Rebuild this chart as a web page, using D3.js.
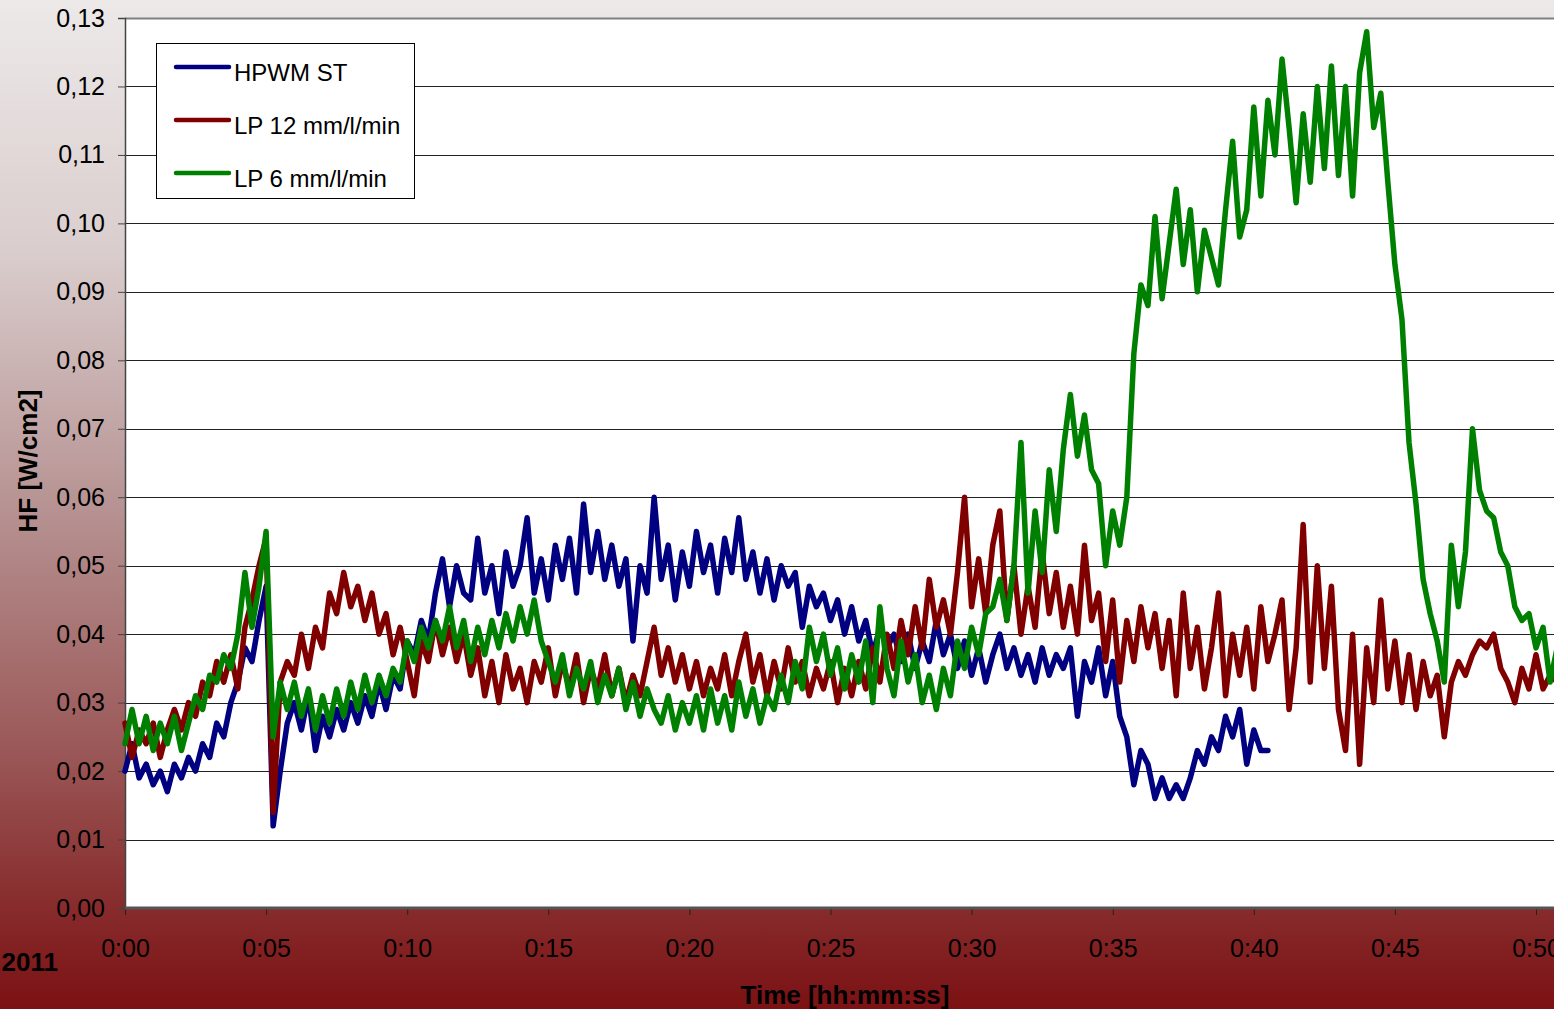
<!DOCTYPE html>
<html lang="en">
<head>
    <meta charset="UTF-8">
    <title>HF over time</title>
    <script src="https://d3js.org/d3.v7.min.js"></script>
    <style type="text/css">
        body { margin: 0; overflow: hidden; }
        text { font-family: "Liberation Sans", Arial, sans-serif; }
    </style>
</head>
<body>
<div id="svgDiv"></div>

<script type="text/javascript">

    // time step between samples, in minutes (15 s)
    var stepMin = 0.25;

    var seriesNames = ["HPWM ST", "LP 12 mm/l/min", "LP 6 mm/l/min"];
    var seriesColors = ["#000080", "#800000", "#008000"];

    // HF [W/cm2], one value every 15 s from 0:00
    var hpwmST = [
        0.020, 0.024, 0.019, 0.021, 0.018, 0.020, 0.017, 0.021, 0.019, 0.022,
        0.020, 0.024, 0.022, 0.027, 0.025, 0.030, 0.033, 0.038, 0.036, 0.042,
        0.047, 0.012, 0.020, 0.027, 0.030, 0.026, 0.031, 0.023, 0.028, 0.025,
        0.029, 0.026, 0.030, 0.027, 0.031, 0.028, 0.033, 0.029, 0.034, 0.032,
        0.039, 0.037, 0.042, 0.039, 0.046, 0.051, 0.044, 0.050, 0.046, 0.045,
        0.054, 0.046, 0.050, 0.043, 0.052, 0.047, 0.050, 0.057, 0.046, 0.051,
        0.045, 0.053, 0.048, 0.054, 0.046, 0.059, 0.049, 0.055, 0.048, 0.053,
        0.047, 0.051, 0.039, 0.050, 0.046, 0.060, 0.048, 0.053, 0.045, 0.052,
        0.047, 0.055, 0.049, 0.053, 0.046, 0.054, 0.049, 0.057, 0.048, 0.052,
        0.046, 0.051, 0.045, 0.050, 0.047, 0.049, 0.041, 0.047, 0.044, 0.046,
        0.042, 0.045, 0.040, 0.044, 0.039, 0.042, 0.037, 0.041, 0.038, 0.040,
        0.036, 0.040, 0.035, 0.039, 0.036, 0.042, 0.037, 0.040, 0.035, 0.039,
        0.034, 0.038, 0.033, 0.037, 0.040, 0.035, 0.038, 0.034, 0.037, 0.033,
        0.038, 0.034, 0.037, 0.035, 0.038, 0.028, 0.036, 0.033, 0.038, 0.031,
        0.036, 0.028, 0.025, 0.018, 0.023, 0.021, 0.016, 0.019, 0.016, 0.018,
        0.016, 0.019, 0.023, 0.021, 0.025, 0.023, 0.028, 0.025, 0.029, 0.021,
        0.026, 0.023, 0.023
    ];

    var lp12 = [
        0.027, 0.022, 0.026, 0.024, 0.027, 0.022, 0.026, 0.029, 0.026, 0.030,
        0.028, 0.033, 0.031, 0.036, 0.033, 0.037, 0.032, 0.041, 0.045, 0.050,
        0.054, 0.014, 0.033, 0.036, 0.034, 0.040, 0.035, 0.041, 0.038, 0.046,
        0.043, 0.049, 0.044, 0.047, 0.042, 0.046, 0.040, 0.043, 0.037, 0.041,
        0.036, 0.031, 0.039, 0.036, 0.042, 0.037, 0.041, 0.036, 0.040, 0.034,
        0.038, 0.031, 0.036, 0.030, 0.037, 0.032, 0.035, 0.030, 0.036, 0.033,
        0.038, 0.031, 0.036, 0.032, 0.037, 0.030, 0.035, 0.032, 0.037, 0.031,
        0.035, 0.030, 0.034, 0.031, 0.036, 0.041, 0.034, 0.038, 0.033, 0.037,
        0.032, 0.036, 0.031, 0.035, 0.032, 0.037, 0.031, 0.036, 0.040, 0.033,
        0.037, 0.031, 0.036, 0.032, 0.038, 0.033, 0.036, 0.031, 0.035, 0.032,
        0.036, 0.030, 0.035, 0.031, 0.036, 0.032, 0.038, 0.033, 0.040, 0.035,
        0.042, 0.037, 0.044, 0.038, 0.048, 0.041, 0.045, 0.040, 0.049, 0.060,
        0.044, 0.051, 0.043, 0.053, 0.058, 0.042, 0.050, 0.040, 0.047, 0.041,
        0.052, 0.043, 0.049, 0.041, 0.047, 0.040, 0.053, 0.042, 0.046, 0.036,
        0.045, 0.033, 0.042, 0.036, 0.044, 0.038, 0.043, 0.035, 0.042, 0.031,
        0.046, 0.035, 0.041, 0.032, 0.038, 0.046, 0.031, 0.040, 0.034, 0.041,
        0.032, 0.044, 0.036, 0.040, 0.045, 0.029, 0.038, 0.056, 0.033, 0.050,
        0.035, 0.047, 0.029, 0.023, 0.040, 0.021, 0.038, 0.030, 0.045, 0.032,
        0.039, 0.030, 0.037, 0.029, 0.036, 0.031, 0.034, 0.025, 0.033, 0.036,
        0.034, 0.037, 0.039, 0.038, 0.040, 0.035, 0.033, 0.030, 0.035, 0.032,
        0.037, 0.032, 0.034, 0.033
    ];

    var lp6 = [
        0.024, 0.029, 0.024, 0.028, 0.023, 0.027, 0.024, 0.028, 0.023, 0.027,
        0.031, 0.029, 0.034, 0.033, 0.037, 0.035, 0.040, 0.049, 0.041, 0.047,
        0.055, 0.025, 0.033, 0.029, 0.033, 0.028, 0.032, 0.026, 0.031, 0.027,
        0.032, 0.028, 0.033, 0.029, 0.034, 0.030, 0.034, 0.031, 0.035, 0.033,
        0.039, 0.036, 0.041, 0.038, 0.042, 0.039, 0.044, 0.038, 0.042, 0.036,
        0.041, 0.037, 0.042, 0.038, 0.043, 0.039, 0.044, 0.040, 0.045, 0.039,
        0.036, 0.033, 0.037, 0.031, 0.035, 0.032, 0.036, 0.030, 0.034, 0.031,
        0.035, 0.029, 0.033, 0.028, 0.032, 0.029, 0.027, 0.031, 0.026, 0.030,
        0.027, 0.031, 0.026, 0.032, 0.027, 0.031, 0.026, 0.033, 0.028, 0.032,
        0.027, 0.031, 0.029, 0.034, 0.030, 0.036, 0.032, 0.041, 0.036, 0.040,
        0.034, 0.038, 0.032, 0.037, 0.033, 0.039, 0.030, 0.044, 0.035, 0.031,
        0.039, 0.033, 0.037, 0.030, 0.034, 0.029, 0.035, 0.031, 0.039, 0.035,
        0.041, 0.037, 0.043, 0.044, 0.048, 0.042, 0.050, 0.068, 0.046, 0.058,
        0.049, 0.064, 0.055, 0.067, 0.075, 0.066, 0.072, 0.064, 0.062, 0.050,
        0.058, 0.053, 0.060, 0.081, 0.091, 0.088, 0.101, 0.089, 0.097, 0.105,
        0.094, 0.102, 0.090, 0.099, 0.095, 0.091, 0.102, 0.112, 0.098, 0.102,
        0.117, 0.104, 0.118, 0.110, 0.124, 0.114, 0.103, 0.116, 0.106, 0.120,
        0.108, 0.123, 0.107, 0.120, 0.104, 0.122, 0.128, 0.114, 0.119, 0.106,
        0.094, 0.086, 0.068, 0.059, 0.048, 0.043, 0.039, 0.033, 0.053, 0.044,
        0.052, 0.070, 0.061, 0.058, 0.057, 0.052, 0.050, 0.044, 0.042, 0.043,
        0.038, 0.041, 0.033, 0.038
    ];

    var xTicks = [0, 5, 10, 15, 20, 25, 30, 35, 40, 45, 50];
    var yTicks = [0, 0.01, 0.02, 0.03, 0.04, 0.05, 0.06, 0.07, 0.08, 0.09, 0.10, 0.11, 0.12, 0.13];

    var svg, xScale, yScale;
    var svgWidth = 1554, svgHeight = 1009;
    var plotLeft = 125, plotTop = 18, plotBottom = 908, plotRight = 1560;

    document.addEventListener('DOMContentLoaded', function(){

        svg = d3.select("#svgDiv")
            .append("svg")
            .attr("width", svgWidth)
            .attr("height", svgHeight);

        xScale = d3.scaleLinear()
                    .domain([0, 50])
                    .range([plotLeft, 1536]);

        yScale = d3.scaleLinear()
                    .domain([0, 0.13])
                    .range([plotBottom, plotTop]);

        drawBackground();
        drawAxes();
        drawLines();
        drawLegend();
    });

    //gradient behind everything, white plot area on top
    function drawBackground(){
        var grad = svg.append("defs").append("linearGradient")
            .attr("id", "bgGrad")
            .attr("x1", 0).attr("y1", 0).attr("x2", 0).attr("y2", 1);
        grad.append("stop").attr("offset", "0%").attr("stop-color", "#ede9e9");
        grad.append("stop").attr("offset", "25%").attr("stop-color", "#dacdcd");
        grad.append("stop").attr("offset", "50%").attr("stop-color", "#b79393");
        grad.append("stop").attr("offset", "75%").attr("stop-color", "#9a5656");
        grad.append("stop").attr("offset", "90%").attr("stop-color", "#872b2c");
        grad.append("stop").attr("offset", "100%").attr("stop-color", "#7b1113");

        svg.append("rect")
            .attr("width", svgWidth)
            .attr("height", svgHeight)
            .attr("fill", "url(#bgGrad)");

        svg.append("rect")
            .attr("x", plotLeft)
            .attr("y", plotTop)
            .attr("width", plotRight - plotLeft)
            .attr("height", plotBottom - plotTop)
            .attr("fill", "white");
    }

    function drawAxes(){
        //horizontal grid lines
        svg.append("g")
            .selectAll("line")
            .data(yTicks.slice(1))
            .enter().append("line")
            .attr("x1", plotLeft)
            .attr("x2", plotRight)
            .attr("y1", function(d){ return Math.round(yScale(d)) + 0.5; })
            .attr("y2", function(d){ return Math.round(yScale(d)) + 0.5; })
            .attr("stroke", function(d){ return d === 0.13 ? "#808080" : "#222"; })
            .attr("stroke-width", function(d){ return d === 0.13 ? 2 : 1; });

        var yAxis = d3.axisLeft(yScale)
            .tickValues(yTicks)
            .tickSize(7)
            .tickPadding(13)
            .tickFormat(function(d){ return d3.format(".2f")(d).replace(".", ","); });

        var gy = svg.append("g")
            .attr("transform", "translate(" + plotLeft + ",0)")
            .call(yAxis);
        gy.select(".domain").attr("stroke", "#444").attr("stroke-width", 1.5);
        gy.selectAll(".tick line").attr("stroke", "#444");
        gy.selectAll("text")
            .attr("font-size", 25)
            .attr("fill", "#000")
            .style("font-family", "Liberation Sans, Arial, sans-serif");

        var xAxis = d3.axisBottom(xScale)
            .tickValues(xTicks)
            .tickSize(7)
            .tickPadding(24)
            .tickFormat(function(d){ return "0:" + (d < 10 ? "0" + d : d); });

        var gx = svg.append("g")
            .attr("transform", "translate(0," + plotBottom + ")")
            .call(xAxis);
        gx.select(".domain").remove();
        gx.selectAll(".tick line").attr("stroke", "#222");
        gx.selectAll("text")
            .attr("font-size", 25)
            .attr("fill", "#000")
            .style("font-family", "Liberation Sans, Arial, sans-serif");

        //bottom frame line
        svg.append("line")
            .attr("x1", plotLeft).attr("x2", plotRight)
            .attr("y1", plotBottom).attr("y2", plotBottom)
            .attr("stroke", "#555")
            .attr("stroke-width", 3);

        svg.append("text")
            .attr("transform", "translate(37," + 461 + ") rotate(-90)")
            .attr("text-anchor", "middle")
            .attr("font-size", 26)
            .attr("font-weight", "bold")
            .text("HF [W/cm2]");

        svg.append("text")
            .attr("x", 845)
            .attr("y", 1004)
            .attr("text-anchor", "middle")
            .attr("font-size", 26)
            .attr("font-weight", "bold")
            .text("Time [hh:mm:ss]");

        svg.append("text")
            .attr("x", 58)
            .attr("y", 971)
            .attr("text-anchor", "end")
            .attr("font-size", 26)
            .attr("font-weight", "bold")
            .text("2011");
    }

    //draws the three HF curves
    function drawLines(){
        var allSeries = [hpwmST, lp12, lp6];

        var line = d3.line()
            .x(function(d, i){ return xScale(i * stepMin); })
            .y(function(d){ return yScale(d); });

        svg.append("g")
            .selectAll("path")
            .data(allSeries)
            .enter().append("path")
            .attr("d", line)
            .attr("fill", "none")
            .attr("stroke", function(d, i){ return seriesColors[i]; })
            .attr("stroke-width", 5.5)
            .attr("stroke-linejoin", "round")
            .attr("stroke-linecap", "round");
    }

    function drawLegend(){
        var legend = svg.append("g");

        legend.append("rect")
            .attr("x", 156.5)
            .attr("y", 43.5)
            .attr("width", 258)
            .attr("height", 155)
            .attr("fill", "white")
            .attr("stroke", "#000")
            .attr("stroke-width", 1);

        var items = legend.selectAll("g.item")
            .data(seriesNames)
            .enter().append("g")
            .attr("class", "item")
            .attr("transform", function(d, i){ return "translate(0," + (67 + i * 53) + ")"; });

        items.append("line")
            .attr("x1", 176).attr("x2", 229)
            .attr("y1", 0).attr("y2", 0)
            .attr("stroke", function(d, i){ return seriesColors[i]; })
            .attr("stroke-width", 4.5)
            .attr("stroke-linecap", "round");

        items.append("text")
            .attr("x", 234)
            .attr("y", 14)
            .attr("font-size", 24)
            .text(function(d){ return d; });
    }

</script>
</body>
</html>
